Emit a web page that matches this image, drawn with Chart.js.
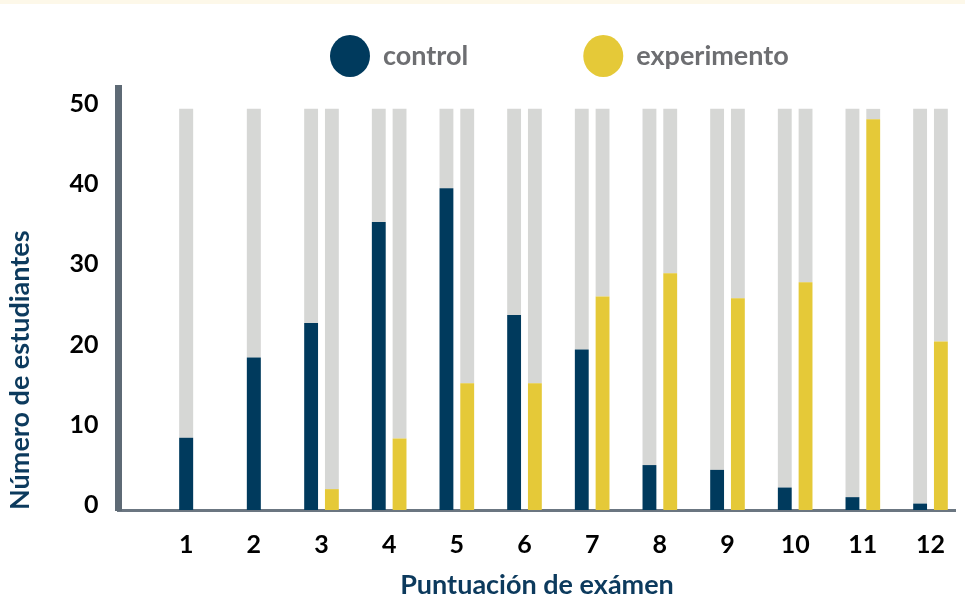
<!DOCTYPE html>
<html lang="es">
<head>
    <meta charset="utf-8">
    <script src="https://cdn.jsdelivr.net/npm/chart.js@4.4.0/dist/chart.umd.min.js"></script>
    <style>
        body { margin: 0; background: #fff; }
        #wrap { position: relative; width: 965px; height: 598px; }
        #strip { position: absolute; left: 0; top: 0; width: 965px; height: 4px; background: #fdf8e9; }
    </style>
</head>
<body>

<div id="wrap">
    <div id="strip"></div>
    <canvas id="scores-chart" width="965" height="598"></canvas>
</div>

<script>
    // exam scores 1..12, number of students per score (max 50 per group)
    const scores = [1, 2, 3, 4, 5, 6, 7, 8, 9, 10, 11, 12];
    const control = [9, 19, 23.3, 35.9, 40.1, 24.3, 20, 5.6, 5, 2.8, 1.6, 0.8];
    const experimento = [null, null, 2.6, 8.9, 15.8, 15.8, 26.6, 29.5, 26.4, 28.4, 48.7, 21];
    const total = 50;
    const yTicks = [0, 10, 20, 30, 40, 50];

    const navy = "#003a5d";
    const yellow = "#e5c938";
    const gray = "#d6d7d5";
    const axisFont = { family: "Lato", size: 25, weight: "bold" };
    const titleFont = { family: "Lato", size: 27, weight: "bold" };

    // legend drawn as big dots with grey labels
    const dotLegend = {
        id: "dotLegend",
        afterDraw(chart) {
            const ctx = chart.ctx;
            ctx.save();
            ctx.font = "bold 27px Lato";
            ctx.textBaseline = "middle";
            let x = 330;
            const y = 56;
            [0, 2].forEach(i => {
                const ds = chart.data.datasets[i];
                ctx.fillStyle = ds.backgroundColor;
                ctx.beginPath();
                ctx.ellipse(x + 20, y, 20, 21, 0, 0, Math.PI * 2);
                ctx.fill();
                ctx.fillStyle = "#6d6e71";
                ctx.fillText(ds.label, x + 53, y);
                x += 53 + ctx.measureText(ds.label).width + 115;
            });
            ctx.restore();
        }
    };

    const canvas = document.getElementById("scores-chart");
    const ch = new Chart(canvas.getContext("2d"), {
        type: "bar",
        data: {
            labels: scores,
            datasets: [
                { label: "control", data: control, backgroundColor: navy, stack: "control" },
                { label: "control-resto", data: control.map(v => v === null ? null : total - v), backgroundColor: gray, stack: "control" },
                { label: "experimento", data: experimento, backgroundColor: yellow, stack: "experimento" },
                { label: "experimento-resto", data: experimento.map(v => v === null ? null : total - v), backgroundColor: gray, stack: "experimento" }
            ]
        },
        options: {
            responsive: false,
            animation: false,
            layout: { padding: { top: 88, left: 0, right: 0, bottom: 0 } },
            datasets: {
                bar: {
                    categoryPercentage: 0.614,
                    barPercentage: 0.667,
                    maxBarThickness: 14,
                    skipNull: true,
                    clip: false
                }
            },
            plugins: {
                legend: { display: false },
                tooltip: { enabled: false }
            },
            scales: {
                x: {
                    type: "linear",
                    offset: false,
                    min: 0,
                    max: 12.37,
                    grid: { display: false, drawTicks: false },
                    border: { color: "#6b7681", width: 3 },
                    afterBuildTicks: s => { s.ticks = scores.map(v => ({ value: v })); },
                    ticks: { color: "#000", font: axisFont, padding: 20, autoSkip: false, maxRotation: 0 },
                    title: {
                        display: true,
                        text: "Puntuación de exámen",
                        color: "#0c3a5d",
                        font: titleFont,
                        padding: { top: 8, bottom: -3 }
                    },
                    afterFit: s => { s.height = 88; }
                },
                y: {
                    stacked: true,
                    min: 0,
                    max: 52.6,
                    grid: { display: false, drawTicks: false },
                    border: { color: "#5e6a75", width: 7 },
                    afterBuildTicks: s => { s.ticks = yTicks.map(v => ({ value: v })); },
                    ticks: { color: "#000", font: axisFont, padding: 20, labelOffset: -5 },
                    title: {
                        display: true,
                        text: "Número de estudiantes",
                        color: "#0c3a5d",
                        font: titleFont,
                        align: "start",
                        padding: { top: 4, bottom: 0 }
                    },
                    afterFit: s => { s.width = 118.5; }
                }
            }
        },
        plugins: [dotLegend]
    });
</script>

</body>
</html>
